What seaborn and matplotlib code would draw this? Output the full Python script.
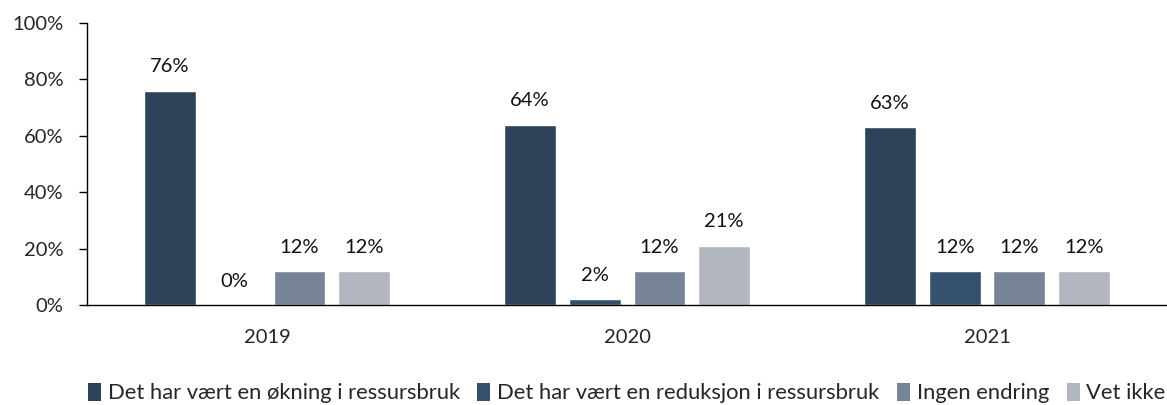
import matplotlib
matplotlib.use("Agg")
import matplotlib.pyplot as plt
import seaborn as sns
import pandas as pd
from matplotlib.patches import Patch

years = ["2019", "2020", "2021"]
series = ["Det har vært en økning i ressursbruk",
          "Det har vært en reduksjon i ressursbruk",
          "Ingen endring",
          "Vet ikke"]
okning = [76, 64, 63]
reduksjon = [0, 2, 12]
ingen = [12, 12, 12]
vet_ikke = [12, 21, 12]
colors = ["#2E4359", "#36516E", "#778498", "#B1B6BF"]

rows = []
for s, vals in zip(series, [okning, reduksjon, ingen, vet_ikke]):
    for y, v in zip(years, vals):
        rows.append({"year": y, "series": s, "value": v})
df = pd.DataFrame(rows)

sns.set_style("white")
plt.rcParams['font.family'] = ['Lato', 'DejaVu Sans']

fig = plt.figure(figsize=(11.67, 4.05), dpi=100)
ax = fig.add_axes([0.0746, 0.247, 0.9254, 0.696])

sns.barplot(data=df, x="year", y="value", hue="series", hue_order=series,
            order=years, palette=colors, width=0.72, gap=0.2, ax=ax,
            legend=False, saturation=1, errorbar=None)

for c in ax.containers:
    ax.bar_label(c, labels=[f"{v:.0f}%" for v in c.datavalues],
                 padding=11, fontsize=14.5, color="#111111")

ax.set_ylim(0, 100)
ax.set_xlim(-0.5, 2.5)
ax.set_yticks([0, 20, 40, 60, 80, 100])
ax.set_yticklabels([f"{t}%" for t in [0, 20, 40, 60, 80, 100]], fontsize=14.5)
ax.set_xticks([-0.5, 0.5, 1.5, 2.5])
ax.set_xticklabels([])
ax.set_xticks([0, 1, 2], minor=True)
ax.set_xticklabels(years, minor=True, fontsize=14.5)
ax.tick_params(axis="x", which="minor", length=0, pad=17)
ax.tick_params(axis="x", which="major", direction="out", length=6, width=1, color="black")
ax.tick_params(axis="y", direction="out", length=6, width=1, color="black", pad=11, left=True)
ax.set_xlabel("")
ax.set_ylabel("")
for side in ["top", "right"]:
    ax.spines[side].set_visible(False)
ax.spines["left"].set_color("black")
ax.spines["bottom"].set_color("black")
ax.spines["left"].set_linewidth(1)
ax.spines["bottom"].set_linewidth(1)

handles = [Patch(facecolor=c, edgecolor="none") for c in colors]
leg = fig.legend(handles, series, loc="center", bbox_to_anchor=(0.537, 0.03),
                 ncol=4, frameon=False, handlelength=0.6, handleheight=0.9,
                 handletextpad=0.3, columnspacing=0.8,
                 prop={"family": ["Lato", "DejaVu Sans"], "size": 15.8})

fig.savefig("out.png", dpi=100)
